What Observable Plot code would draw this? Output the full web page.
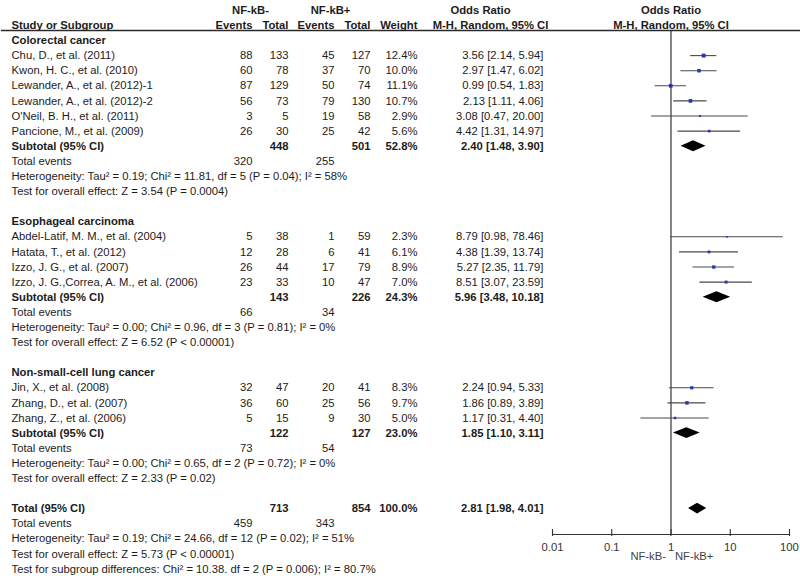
<!DOCTYPE html>
<html><head><meta charset="utf-8">
<script src="https://cdn.jsdelivr.net/npm/d3@7"></script>
<script src="https://cdn.jsdelivr.net/npm/@observablehq/plot@0.6"></script>
<style>
body{margin:0;background:#fff;}
#wrap{position:relative;width:800px;height:579px;}
#wrap svg{position:absolute;left:0;top:0;}
</style></head><body><div id="wrap"></div>
<script>
// ---------- data ----------
const groupNames = ["Colorectal cancer", "Esophageal carcinoma", "Non-small-cell lung cancer"];
const studyNames = [
  "Chu, D., et al. (2011)", "Kwon, H. C., et al. (2010)", "Lewander, A., et al. (2012)-1",
  "Lewander, A., et al. (2012)-2", "O'Neil, B. H., et al. (2011)", "Pancione, M., et al. (2009)",
  "Abdel-Latif, M. M., et al. (2004)", "Hatata, T., et al. (2012)", "Izzo, J. G., et al. (2007)",
  "Izzo, J. G.,Correa, A. M., et al. (2006)",
  "Jin, X., et al. (2008)", "Zhang, D., et al. (2007)", "Zhang, Z., et al. (2006)"
];
const studyGroup = [0,0,0,0,0,0,1,1,1,1,2,2,2];
const events1 = [88,60,87,56,3,26,5,12,26,23,32,36,5];
const total1  = [133,78,129,73,5,30,38,28,44,33,47,60,15];
const events2 = [45,37,50,79,19,25,1,6,17,10,20,25,9];
const total2  = [127,70,74,130,58,42,59,41,79,47,41,56,30];
const weights = [12.4,10.0,11.1,10.7,2.9,5.6,2.3,6.1,8.9,7.0,8.3,9.7,5.0];
const oddsRatio = [3.56,2.97,0.99,2.13,3.08,4.42,8.79,4.38,5.27,8.51,2.24,1.86,1.17];
const ciLow  = [2.14,1.47,0.54,1.11,0.47,1.31,0.98,1.39,2.35,3.07,0.94,0.89,0.31];
const ciHigh = [5.94,6.02,1.83,4.06,20.00,14.97,78.46,13.74,11.79,23.59,5.33,3.89,4.40];

const subTotal1 = [448,143,122];
const subTotal2 = [501,226,127];
const subWeight = [52.8,24.3,23.0];
const subOR   = [2.40,5.96,1.85];
const subLow  = [1.48,3.48,1.10];
const subHigh = [3.90,10.18,3.11];
const subEvents1 = [320,66,73];
const subEvents2 = [255,34,54];
const subHeterogeneity = [
  "Heterogeneity: Tau² = 0.19; Chi² = 11.81, df = 5 (P = 0.04); I² = 58%",
  "Heterogeneity: Tau² = 0.00; Chi² = 0.96, df = 3 (P = 0.81); I² = 0%",
  "Heterogeneity: Tau² = 0.00; Chi² = 0.65, df = 2 (P = 0.72); I² = 0%"
];
const subOverall = [
  "Test for overall effect: Z = 3.54 (P = 0.0004)",
  "Test for overall effect: Z = 6.52 (P < 0.00001)",
  "Test for overall effect: Z = 2.33 (P = 0.02)"
];
const totalTotals = [713, 854];
const totalWeight = 100.0;
const totalOR = [2.81, 1.98, 4.01];
const totalEvents = [459, 343];
const totalHeterogeneity = "Heterogeneity: Tau² = 0.19; Chi² = 24.66, df = 12 (P = 0.02); I² = 51%";
const totalOverall = "Test for overall effect: Z = 5.73 (P < 0.00001)";
const subgroupDifferences = "Test for subgroup differences: Chi² = 10.38. df = 2 (P = 0.006); I² = 80.7%";

const groupHeaders = ["NF-kB-", "NF-kB+"];
const columnHeaders = ["Study or Subgroup", "Events", "Total", "Events", "Total", "Weight"];
const orHeader = ["Odds Ratio", "M-H, Random, 95% CI"];
const axisTicks = [0.01, 0.1, 1, 10, 100];
const favourLabels = ["NF-kB-", "NF-kB+"];

// ---------- layout ----------
const FONT = "Liberation Sans, Arial, Helvetica, sans-serif";
const FS = 11.25;
const TXT = "#1c1c1c";
const colX = {name: 11, ev1: 252, tot1: 288, ev2: 334, tot2: 370, weight: 417, or: 543, h1: 250, h2: 330, orh1: 480, orh2: 490};
const yScale = {domain: [-2, 35], range: [9.8, 568.5]};

const fmtOR = (o, l, h) => `${o.toFixed(2)} [${l.toFixed(2)}, ${h.toFixed(2)}]`;
const cells = [];
const studyRows = [];
const diamonds = [];
const cell = (row, col, text, bold = false) => cells.push({row, col, text: String(text), bold});

// header rows
cell(-2, "h1", groupHeaders[0], true);
cell(-2, "h2", groupHeaders[1], true);
cell(-2, "orh1", orHeader[0], true);
cell(-1, "orh2", orHeader[1], true);
["name", "ev1", "tot1", "ev2", "tot2", "weight"].forEach((c, i) => cell(-1, c, columnHeaders[i], true));

let r = 0;
groupNames.forEach((g, gi) => {
  cell(r++, "name", g, true);
  studyNames.forEach((s, i) => {
    if (studyGroup[i] !== gi) return;
    cell(r, "name", s);
    cell(r, "ev1", events1[i]); cell(r, "tot1", total1[i]);
    cell(r, "ev2", events2[i]); cell(r, "tot2", total2[i]);
    cell(r, "weight", weights[i].toFixed(1) + "%");
    cell(r, "or", fmtOR(oddsRatio[i], ciLow[i], ciHigh[i]));
    studyRows.push({row: r, or: oddsRatio[i], lo: ciLow[i], hi: ciHigh[i], w: weights[i]});
    r++;
  });
  cell(r, "name", "Subtotal (95% CI)", true);
  cell(r, "tot1", subTotal1[gi], true); cell(r, "tot2", subTotal2[gi], true);
  cell(r, "weight", subWeight[gi].toFixed(1) + "%", true);
  cell(r, "or", fmtOR(subOR[gi], subLow[gi], subHigh[gi]), true);
  diamonds.push({id: gi, row: r, or: subOR[gi], lo: subLow[gi], hi: subHigh[gi]});
  r++;
  cell(r, "name", "Total events"); cell(r, "ev1", subEvents1[gi]); cell(r, "ev2", subEvents2[gi]); r++;
  cell(r++, "name", subHeterogeneity[gi]);
  cell(r++, "name", subOverall[gi]);
  r++;
});
cell(r, "name", "Total (95% CI)", true);
cell(r, "tot1", totalTotals[0], true); cell(r, "tot2", totalTotals[1], true);
cell(r, "weight", totalWeight.toFixed(1) + "%", true);
cell(r, "or", fmtOR(totalOR[0], totalOR[1], totalOR[2]), true);
diamonds.push({id: 9, row: r, or: totalOR[0], lo: totalOR[1], hi: totalOR[2]});
r++;
cell(r, "name", "Total events"); cell(r, "ev1", totalEvents[0]); cell(r, "ev2", totalEvents[1]); r++;
cell(r++, "name", totalHeterogeneity);
cell(r++, "name", totalOverall);
cell(r++, "name", subgroupDifferences);

const anchorOf = c => c === "name" ? "start" : (c === "h1" || c === "h2" || c === "orh1" || c === "orh2") ? "middle" : "end";
const textMarks = [];
for (const anchor of ["start", "middle", "end"]) {
  for (const bold of [false, true]) {
    const sub = cells.filter(d => anchorOf(d.col) === anchor && d.bold === bold);
    if (!sub.length) continue;
    textMarks.push(Plot.text(sub, {
      x: d => colX[d.col], y: "row", text: "text", textAnchor: anchor,
      fontFamily: FONT, fontSize: FS, fontWeight: bold ? "bold" : "normal", fill: TXT
    }));
  }
}

const table = Plot.plot({
  width: 800, height: 579,
  marginTop: 30, marginLeft: 1, marginRight: 0, marginBottom: 0,
  x: {type: "identity", axis: null},
  y: {...yScale, axis: null},
  marks: [
    Plot.frame({anchor: "top", stroke: "#2a2a2a", strokeWidth: 1.3}),
    ...textMarks
  ]
});

// diamond polygons as areas (left tip, centre, right tip)
const DH = 0.36;
const diamondPts = diamonds.flatMap(d => [
  {id: d.id, x: d.lo, y1: d.row, y2: d.row},
  {id: d.id, x: d.or, y1: d.row - DH, y2: d.row + DH},
  {id: d.id, x: d.hi, y1: d.row, y2: d.row}
]);

const FRAME_H = 579 - 30 - 45;
const forest = Plot.plot({
  width: 800, height: 579,
  marginLeft: 552, marginRight: 11, marginTop: 30, marginBottom: 45,
  style: {background: "transparent"},
  x: {type: "log", domain: [0.01, 100]},
  y: {...yScale, axis: null},
  r: {range: [0, 2.2]},
  marks: [
    Plot.ruleX([1], {stroke: "#222", strokeWidth: 1.1}),
    Plot.frame({anchor: "bottom", stroke: "#333", strokeWidth: 1.1}),
    Plot.tickX(axisTicks, {x: d => d, insetTop: FRAME_H - 5, insetBottom: -2, stroke: "#333", strokeWidth: 1.1}),
    Plot.axisX({ticks: axisTicks, tickFormat: d => String(d), tickSize: 0, tickPadding: 8,
      label: null, fontFamily: FONT, fontSize: FS, fill: "#333"}),
    Plot.ruleY(studyRows, {y: "row", x1: "lo", x2: "hi", stroke: "#4a4a4a", strokeWidth: 1.1}),
    Plot.dot(studyRows, {x: "or", y: "row", r: "w", symbol: "square", fill: "#2436b4", stroke: null}),
    Plot.areaY(diamondPts, {x: "x", y1: "y1", y2: "y2", z: "id", fill: "#000", curve: "linear"}),
    Plot.text(orHeader.map((t, i) => ({t, row: i - 2})), {x: 1, y: "row", text: "t",
      fontFamily: FONT, fontSize: FS, fontWeight: "bold", fill: TXT}),
    Plot.text([favourLabels[0]], {x: 1, text: d => d, frameAnchor: "bottom", dy: 25, dx: -5,
      textAnchor: "end", fontFamily: FONT, fontSize: FS, fill: "#444"}),
    Plot.text([favourLabels[1]], {x: 1, text: d => d, frameAnchor: "bottom", dy: 25, dx: 4,
      textAnchor: "start", fontFamily: FONT, fontSize: FS, fill: "#444"})
  ]
});

const wrap = document.getElementById("wrap");
wrap.appendChild(table);
wrap.appendChild(forest);
</script></body></html>
